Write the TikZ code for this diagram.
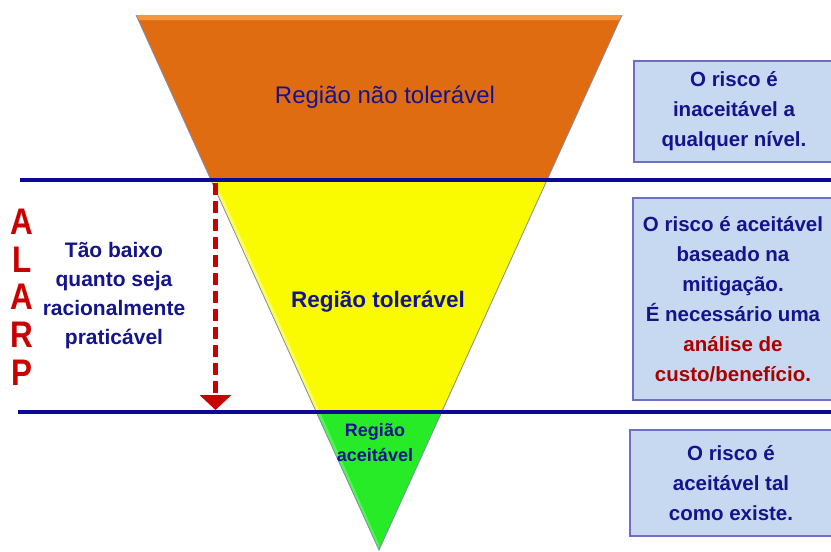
\documentclass[tikz,border=0pt]{standalone}
\usepackage{fontspec}
\setmainfont{Liberation Sans}
\newfontfamily\alarpfont[FakeStretch=0.85]{Liberation Sans}
\usetikzlibrary{arrows.meta}
\definecolor{navytxt}{RGB}{20,20,140}
\definecolor{linenavy}{RGB}{10,10,150}
\definecolor{darkred}{RGB}{170,0,0}
\definecolor{arrred}{RGB}{200,0,0}
\definecolor{orng}{RGB}{224,108,18}
\definecolor{orngl}{RGB}{245,150,60}
\definecolor{ylw}{RGB}{250,250,0}
\definecolor{ylwl}{RGB}{252,252,90}
\definecolor{grn}{RGB}{40,235,40}
\definecolor{grnl}{RGB}{80,245,80}
\definecolor{boxfill}{RGB}{198,217,240}
\definecolor{boxedge}{RGB}{110,110,200}
\definecolor{edgegray}{RGB}{130,140,175}
\tikzset{
  infobox/.style={draw=boxedge, line width=1.6pt, fill=boxfill, align=center,
    text=navytxt, font=\bfseries\fontsize{20.5}{30}\selectfont, inner sep=0pt},
  sidetext/.style={align=center, text=navytxt, font=\bfseries\fontsize{21}{29}\selectfont},
  alarp/.style={text=arrred, font=\alarpfont\bfseries\fontsize{37}{37}\selectfont, inner sep=0pt},
  hline/.style={draw=linenavy, line width=3.5pt},
  regionedge/.style={draw=edgegray, line width=0.8pt},
}
\begin{document}
\begin{tikzpicture}[x=1pt,y=-1pt]
\clip (0,0) rectangle (831,552);
\fill[white] (0,0) rectangle (831,552);

% triangle regions
\fill[orng] (136,15) -- (622,15) -- (547,180) -- (211,180) -- cycle;
\fill[orngl] (136,15) -- (622,15) -- (619,20) -- (139,20) -- cycle;
\fill[ylw] (211,180) -- (547,180) -- (442,412) -- (316,412) -- cycle;
\fill[ylwl] (211,180) -- (215,180) -- (319,410) -- (316,412) -- cycle;
\fill[grn] (316,412) -- (442,412) -- (379,550) -- cycle;
\fill[grnl] (316,412) -- (320,412) -- (379,544) -- (379,550) -- cycle;
\draw[regionedge] (136,15) -- (379,550) -- (622,15);

% region labels
\node[text=navytxt, font=\fontsize{24}{24}\selectfont] (t1) at (385,97) {Região não tolerável};
\node[text=navytxt, font=\bfseries\fontsize{22.5}{24}\selectfont] (t2) at (378,302) {Região tolerável};
\node[text=navytxt, align=center, font=\bfseries\fontsize{18}{25}\selectfont] (t3) at (375,443) {Região\\aceitável};

% horizontal lines
\coordinate (l1a) at (20,180);
\coordinate (l1b) at (831,180);
\coordinate (l2a) at (18,412);
\coordinate (l2b) at (831,412);
\draw[hline] (l1a) -- (l1b);
\draw[hline] (l2a) -- (l2b);

% ALARP arrow
\coordinate (aS) at (215.5,183);
\coordinate (aE) at (215.5,410);
\draw[arrred, line width=5pt, dash pattern=on 12pt off 6pt,
  -{Triangle[length=15pt 0 0, width=31pt 0 0]}] (aS) -- (aE);

% ALARP letters
\node[alarp] (lA1) at (22,222) {A};
\node[alarp] (lL) at (22,260) {L};
\node[alarp] (lA2) at (22,297) {A};
\node[alarp] (lR) at (22,335) {R};
\node[alarp] (lP) at (22,373) {P};

\node[sidetext] (side) at (114,296) {Tão baixo\\quanto seja\\racionalmente\\praticável};

% info boxes
\node[infobox, minimum width=200pt, minimum height=101pt] (b1) at (734,111.5)
  {O risco é\\inaceitável a\\qualquer nível.};
\node[infobox, minimum width=200pt, minimum height=202pt] (b2) at (733,299)
  {O risco é aceitável\\baseado na\\mitigação.\\É necessário uma\\\textcolor{darkred}{análise de}\\\textcolor{darkred}{custo/benefício.}};
\node[infobox, minimum width=202pt, minimum height=106pt] (b3) at (731,483)
  {O risco é\\aceitável tal\\como existe.};
\end{tikzpicture}
\end{document}
